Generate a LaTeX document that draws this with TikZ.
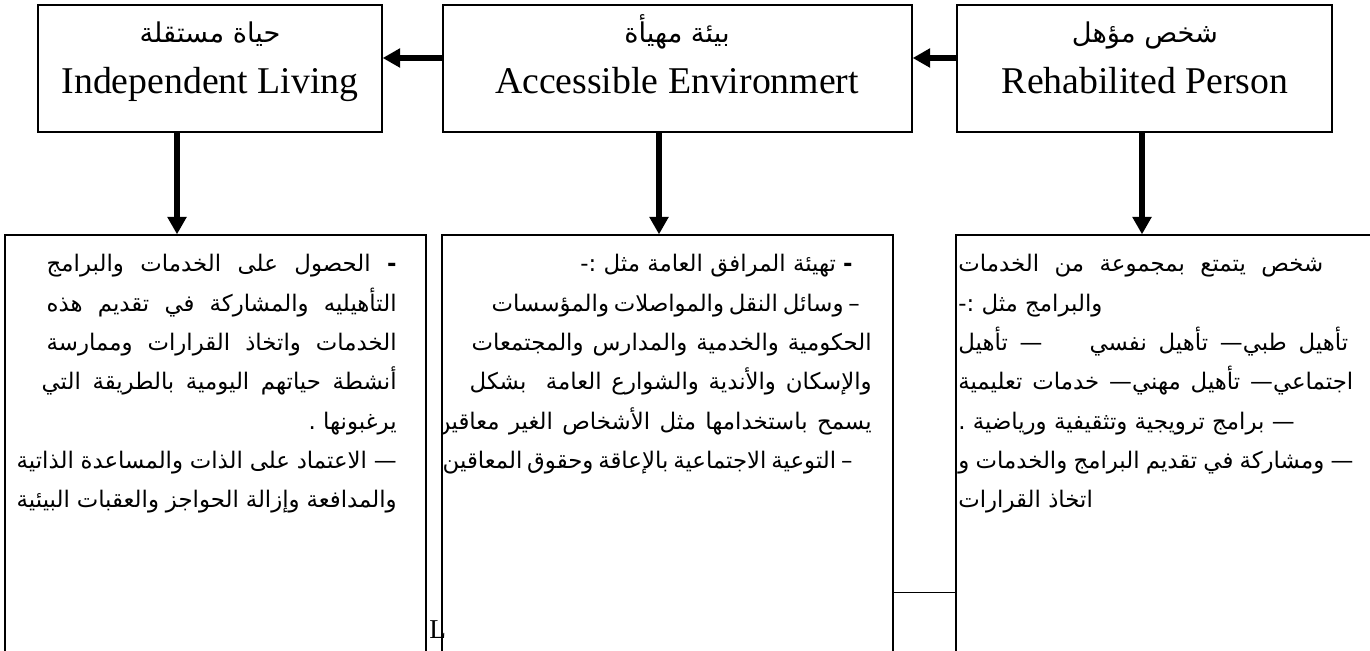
\documentclass[tikz,border=0pt]{standalone}
\usepackage{fontspec}
\setmainfont{Liberation Serif}
\newfontfamily\arabicfont[Script=Arabic]{DejaVu Sans}
\TeXXeTstate=1
\usetikzlibrary{arrows.meta}

\begin{document}
\begin{tikzpicture}[x=0.02cm, y=-0.02cm,
  box/.style={draw, line width=0.8pt, inner sep=0pt},
  bigarrow/.style={line width=3pt, -{Triangle[length=10pt, width=10.5pt]}},
  artitle/.style={anchor=base, font=\arabicfont\fontsize{15.5}{18}\selectfont},
  entitle/.style={anchor=base, font=\fontsize{21.5}{24}\selectfont},
  artext/.style={inner sep=0pt, font=\arabicfont\fontsize{13}{22.4}\selectfont}]
\useasboundingbox (0,0) rectangle (1370,650);

% top row
\node[box, minimum width=6.88cm, minimum height=2.54cm] (living) at (210,68.5) {};
\node[box, minimum width=9.38cm, minimum height=2.54cm] (environ) at (677.5,68.5) {};
\node[box, minimum width=7.5cm, minimum height=2.54cm] (person) at (1144.5,68.5) {};
\node[artitle] (livingar) at (210,42) {\beginR حياة مستقلة\endR};
\node[entitle] (livingen) at (210,93) {Independent Living};
\node[artitle] (environar) at (677,42) {\beginR بيئة مهيأة\endR};
\node[entitle] (environen) at (677,93) {Accessible Environmert};
\node[artitle] (personar) at (1145,42) {\beginR شخص مؤهل\endR};
\node[entitle] (personen) at (1145,93) {Rehabilited Person};

% bottom row
\node[box, minimum width=8.42cm, minimum height=8.7cm] (livingbox) at (215.5,452.5) {};
\node[box, minimum width=9.02cm, minimum height=8.7cm] (environbox) at (667.5,452.5) {};
\node[box, minimum width=8.48cm, minimum height=8.7cm] (personbox) at (1168,452.5) {};

% arrows
\draw[bigarrow] ([yshift=0.21cm]person.west) -- ([yshift=0.21cm]environ.east);
\draw[bigarrow] ([yshift=0.21cm]environ.west) -- ([yshift=0.21cm]living.east);
\draw[bigarrow] ([xshift=-0.66cm]living.south) -- ([xshift=-0.66cm]living.south |- livingbox.north);
\draw[bigarrow] ([xshift=-0.37cm]environ.south) -- ([xshift=-0.37cm]environ.south |- environbox.north);
\draw[bigarrow] ([xshift=-0.05cm]person.south) -- ([xshift=-0.05cm]person.south |- personbox.north);

% texts
\node[artext, anchor=north east, align=right] (livingtext) at (397,254) {%
\hbox to 7cm{\beginR\textbf{-} الحصول على الخدمات والبرامج\endR}\\
\hbox to 7cm{\beginR التأهيليه والمشاركة في تقديم هذه\endR}\\
\hbox to 7cm{\beginR الخدمات واتخاذ القرارات وممارسة\endR}\\
\hbox to 7.1cm{\beginR أنشطة حياتهم اليومية بالطريقة التي\endR}\\
\beginR يرغبونها .\endR\\
\hbox to 7.6cm{\beginR — الاعتماد على الذات والمساعدة الذاتية\endR}\\
\hbox to 7.6cm{\beginR والمدافعة وإزالة الحواجز والعقبات البيئية\endR}};
\begin{scope}
\clip (environbox.north west) rectangle (environbox.south east);
\node[artext, anchor=north east, align=right] (environtext) at (872,254) {%
\beginR\hspace{0.38cm}\textbf{-} تهيئة المرافق العامة مثل :-\endR\\
\hbox to 7.6cm{\beginR\hspace{0.54cm}– وسائل النقل والمواصلات والمؤسسات\endR}\\
\hbox to 8cm{\beginR الحكومية والخدمية والمدارس والمجتمعات\endR}\\
\hbox to 8.04cm{\beginR والإسكان والأندية والشوارع العامة \ بشكل\endR}\\
\hbox to 8.75cm{\beginR يسمح باستخدامها مثل الأشخاص الغير معاقين\endR}\\
\hbox to 8.58cm{\beginR\hspace{0.58cm}– التوعية الاجتماعية بالإعاقة وحقوق المعاقين\endR}};
\end{scope}
\node[artext, anchor=north west, align=left] (persontext) at (958,254) {%
\hbox to 7.3cm{\beginR شخص يتمتع بمجموعة من الخدمات\endR}\\
\beginR والبرامج مثل :-\endR\\
\hbox to 7.8cm{\beginR تأهيل طبي— تأهيل نفسي \ \ \ — تأهيل\endR}\\
\hbox to 7.9cm{\beginR اجتماعي— تأهيل مهني— خدمات تعليمية\endR}\\
\beginR — برامج ترويجية وتثقيفية ورياضية .\endR\\
\hbox to 7.9cm{\beginR — ومشاركة في تقديم البرامج والخدمات و\endR}\\
\beginR اتخاذ القرارات\endR};

% stray bits
\draw (environbox.east |- 0,592) -- (personbox.west |- 0,592);
\node[anchor=base west, inner sep=0pt, font=\fontsize{15.5}{18}\selectfont] (strayl) at (429,638) {L};
\end{tikzpicture}
\end{document}
